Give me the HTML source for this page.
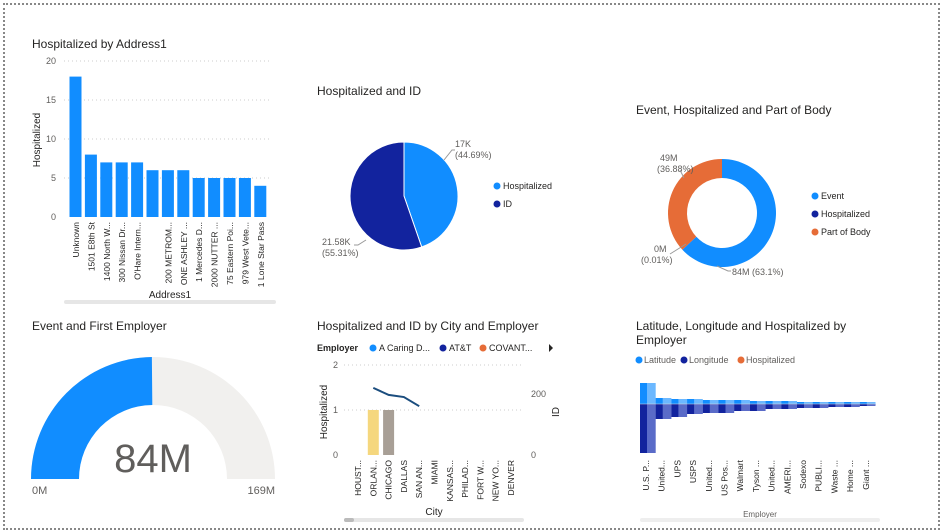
<!DOCTYPE html>
<html><head><meta charset="utf-8"><style>
body{margin:0;width:943px;height:532px;background:#fff;font-family:"Liberation Sans",sans-serif;overflow:hidden;position:relative}
#frame{position:absolute;left:3px;top:3px;width:933px;height:523px;border:2px dotted #888}
svg{position:absolute;left:0;top:0}
text{font-family:"Liberation Sans",sans-serif}
</style></head><body>
<div id="frame"></div>
<svg id="s" width="943" height="532"></svg>
<script>
const addrCats=["Unknown","1501 E8th St","1400 North W...","300 Nissan Dr...","O'Hare Intern...","","200 METROM...","ONE ASHLEY ...","1 Mercedes D...","2000 NUTTER ...","75 Eastern Poi...","979 West Vete...","1 Lone Star Pass"];
const addrVals=[18,8,7,7,7,6,6,6,5,5,5,5,4];
const addrTicks=[0,5,10,15,20];
const pieVals=[44.69,55.31];
const pieLabels=["17K","21.58K"];
const pieNames=["Hospitalized","ID"];
const donutVals=[63.1,0.01,36.88];
const donutNames=["Event","Hospitalized","Part of Body"];
const gaugeVal=84, gaugeMax=169;
const cityCats=["HOUST...","ORLAN...","CHICAGO","DALLAS","SAN AN...","MIAMI","KANSAS...","PHILAD...","FORT W...","NEW YO...","DENVER"];
const cityHosp=[0,1,1,0,0,0,0,0,0,0,0];
const cityId=[null,220,197,190,160,null,null,null,null,null,null];
const empCats=["U.S. P...","United...","UPS","USPS","United...","US Pos...","Walmart","Tyson ...","United...","AMERI...","Sodexo","PUBLI...","Waste ...","Home ...","Giant ..."];
const empLat=[21,6,5,5,4,4,4,3,3,3,2,2,2,2,2];
const empLon=[49,15,13,10,9,9,7,7,5,5,4,4,3,3,2];

const S=document.getElementById('s'),NS="http://www.w3.org/2000/svg";
function el(t,a,txt){const e=document.createElementNS(NS,t);for(const k in a)e.setAttribute(k,a[k]);if(txt!==undefined)e.textContent=txt;S.appendChild(e);return e;}
function title(x,y,t,n){const e=el('text',{x:x,y:y,'font-size':12,fill:'#252423'},t);return e;}
function lbl(x,y,t,o){const a={x:x,y:y,'font-size':o&&o.fs||9,fill:o&&o.fill||'#605E5C'};if(o&&o.anchor)a['text-anchor']=o.anchor;if(o&&o.rot)a.transform='rotate(-90 '+x+' '+y+')';return el('text',a,t);}

// ---- Bar chart ----
title(32,48,"Hospitalized by Address1","bar-chart-title");
const by=v=>217-v*(156/20), x0=68, slot=15.4;
addrTicks.forEach(t=>{const l=lbl(56,by(t)+3,t,{anchor:'end'});
 if(t>0)el('line',{x1:64,x2:272,y1:by(t),y2:by(t),stroke:'#ccc','stroke-dasharray':'1,3'});});
addrVals.forEach((v,i)=>{const r=el('rect',{x:x0+i*slot+1.5,y:by(v),width:12,height:217-by(v),fill:'#118DFF'});
 
 const t=lbl(x0+i*slot+11,222,addrCats[i],{fs:8.5,anchor:'end',rot:1,fill:'#252423'});});
lbl(40,140,"Hospitalized",{fs:10,anchor:'middle',rot:1,fill:'#252423'});
lbl(170,298,"Address1",{fs:10,anchor:'middle',fill:'#252423'});
el('rect',{x:64,y:300,width:212,height:4,rx:2,fill:'#e6e6e6'});

// ---- Pie ----
title(317,95,"Hospitalized and ID","pie-title");
function arcPath(cx,cy,r,ri,a0,a1){const p=a=>[cx+Math.sin(a)*r,cy-Math.cos(a)*r],q=a=>[cx+Math.sin(a)*ri,cy-Math.cos(a)*ri];const lg=a1-a0>Math.PI?1:0;const A=p(a0),B=p(a1);
 if(ri===0)return `M${cx},${cy}L${A}A${r},${r} 0 ${lg} 1 ${B}Z`;const C=q(a1),D=q(a0);return `M${A}A${r},${r} 0 ${lg} 1 ${B}L${C}A${ri},${ri} 0 ${lg} 0 ${D}Z`;}
const pcol=['#118DFF','#12239E'];let tot=pieVals.reduce((a,b)=>a+b),a=0;
pieVals.forEach((v,i)=>{const a1=a+v/tot*2*Math.PI;const p=el('path',{d:arcPath(404,196,54,0,a,a1),fill:pcol[i],stroke:'#fff','stroke-width':1});a=a1;});
const pct=v=>(v/tot*100).toFixed(2)+'%';
lbl(455,147,pieLabels[0]);lbl(455,158,'('+pct(pieVals[0])+')');
lbl(322,245,pieLabels[1]);lbl(322,256,'('+pct(pieVals[1])+')');
el('polyline',{points:'444,160 452,150 455,150',fill:'none',stroke:'#999'});
el('polyline',{points:'366,240 358,245 354,245',fill:'none',stroke:'#999'});
pieNames.forEach((n,i)=>{el('circle',{cx:497,cy:186+i*18,r:3.5,fill:pcol[i]});lbl(503,189+i*18,n,{fill:'#252423'});});

// ---- Donut ----
title(636,114,"Event, Hospitalized and Part of Body","donut-title");
const dcol=['#118DFF','#12239E','#E66C37'];tot=donutVals.reduce((a,b)=>a+b);a=0;
donutVals.forEach((v,i)=>{const a1=a+v/tot*2*Math.PI;const p=el('path',{d:arcPath(722,213,54,35,a,Math.max(a1,a+0.001)),fill:dcol[i]});a=a1;});
lbl(660,161,'49M');lbl(657,172,'(36.88%)');lbl(654,252,'0M');lbl(641,263,'(0.01%)');lbl(732,275,'84M (63.1%)');
el('polyline',{points:'680,170 684,178',fill:'none',stroke:'#999'});
el('polyline',{points:'670,254 686,244',fill:'none',stroke:'#999'});
el('polyline',{points:'717,266 728,271 731,271',fill:'none',stroke:'#999'});
donutNames.forEach((n,i)=>{el('circle',{cx:815,cy:196+i*18,r:3.5,fill:dcol[i]});lbl(821,199+i*18,n,{fill:'#252423'});});

// ---- Gauge ----
title(32,330,"Event and First Employer","gauge-title");
const gcx=153,gcy=479,gr=122,gri=74;
function garc(f0,f1){const ang=f=>Math.PI*(1-f);const P=(r,f)=>[gcx+Math.cos(ang(f))*r,gcy-Math.sin(ang(f))*r];
 return `M${P(gr,f0)}A${gr},${gr} 0 0 1 ${P(gr,f1)}L${P(gri,f1)}A${gri},${gri} 0 0 0 ${P(gri,f0)}Z`;}
el('path',{d:garc(0,1),fill:'#F1F0EE'});
const gp=el('path',{d:garc(0,gaugeVal/gaugeMax),fill:'#118DFF'});
lbl(153,472,gaugeVal+'M',{fs:40,anchor:'middle',fill:'#605E5C'});
lbl(32,494,'0M',{fs:11,fill:'#605E5C'});lbl(275,494,gaugeMax+'M',{fs:11,anchor:'end',fill:'#605E5C'});

// ---- Combo ----
title(317,330,"Hospitalized and ID by City and Employer","combo-title");
el('text',{x:317,y:351,'font-size':9,'font-weight':'bold',fill:'#252423'},'Employer');
[['#118DFF','A Caring D...',370],['#12239E','AT&T',440],['#E66C37','COVANT...',480]].forEach(l=>{el('circle',{cx:l[2]+3,cy:348,r:3.5,fill:l[0]});lbl(l[2]+9,351,l[1],{fill:'#252423'});});
el('path',{d:'M549,344 L553,348 L549,352Z',fill:'#252423'});
const cy=v=>455-v*45, cy2=v=>455-v*0.305, cx=i=>358+i*15.3;
[0,1,2].forEach(t=>{lbl(338,cy(t)+3,t,{anchor:'end'});if(t>0)el('line',{x1:344,x2:523,y1:cy(t),y2:cy(t),stroke:'#ccc','stroke-dasharray':'1,3'});});
[0,200].forEach(t=>lbl(531,cy2(t)+3,t));
const bcol=['#F5D77E','#F5D77E','#A89F96'];
cityHosp.forEach((v,i)=>{if(v>0){const r=el('rect',{x:cx(i)-5.5,y:cy(v),width:11,height:455-cy(v),fill:bcol[i]});}
 lbl(cx(i)+3,460,cityCats[i],{fs:8.5,anchor:'end',rot:1,fill:'#252423'});});
const pts=cityId.map((v,i)=>v==null?null:cx(i)+','+cy2(v)).filter(Boolean).join(' ');
el('polyline',{points:pts,fill:'none',stroke:'#1B4D7E','stroke-width':2});
lbl(327,412,"Hospitalized",{fs:10,anchor:'middle',rot:1,fill:'#252423'});
lbl(559,412,"ID",{fs:10,anchor:'middle',rot:1,fill:'#252423'});
lbl(434,515,"City",{fs:10,anchor:'middle',fill:'#252423'});
el('rect',{x:344,y:518,width:180,height:4,rx:2,fill:'#e6e6e6'});el('rect',{x:344,y:518,width:10,height:4,rx:2,fill:'#bbb'});

// ---- Ribbon ----
title(636,330,"Latitude, Longitude and Hospitalized by","ribbon-title");title(636,344,"Employer","ribbon-title-2");
[['#118DFF','Latitude',636],['#12239E','Longitude',681],['#E66C37','Hospitalized',738]].forEach(l=>{el('circle',{cx:l[2]+3,cy:360,r:3.5,fill:l[0]});lbl(l[2]+8,363,l[1],{fill:'#605E5C'});});
const ry=404, rx=i=>646+i*15.7;
empCats.forEach((c,i)=>{
 const ri=el('rect',{x:rx(i)-6,y:ry-empLat[i],width:15.7,height:empLat[i],fill:'#6CB8FF'});
 el('rect',{x:rx(i)-6,y:ry-empLat[i],width:7,height:empLat[i],fill:'#118DFF'});
 const r2=el('rect',{x:rx(i)-6,y:ry,width:15.7,height:empLon[i],fill:'#5A6BC8'});
 el('rect',{x:rx(i)-6,y:ry,width:7,height:empLon[i],fill:'#12239E'});
 lbl(rx(i)+3,460,c,{fs:8.5,anchor:'end',rot:1,fill:'#252423'});});
el('line',{x1:640,x2:875,y1:ry,y2:ry,stroke:'#ddd','stroke-width':0.6});
lbl(760,517,"Employer",{fs:8,anchor:'middle',fill:'#605E5C'});
el('rect',{x:640,y:518,width:240,height:4,rx:2,fill:'#eee'});
</script>
</body></html>
